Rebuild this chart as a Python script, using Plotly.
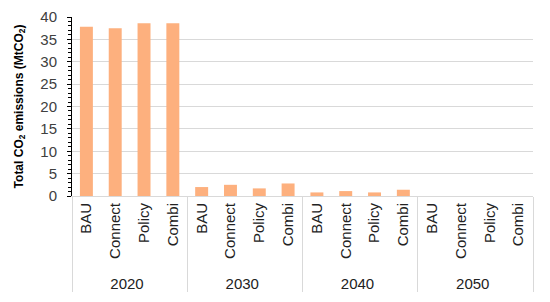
import plotly.graph_objects as go

years = ["2020"] * 4 + ["2030"] * 4 + ["2040"] * 4 + ["2050"] * 4
scenarios = ["BAU", "Connect", "Policy", "Combi"] * 4
emissions = [37.8, 37.5, 38.6, 38.6,
             2.0, 2.5, 1.7, 2.8,
             0.8, 1.1, 0.8, 1.4,
             0.0, 0.0, 0.0, 0.0]

bar_color = "#FDB07E"

fig = go.Figure(go.Bar(
    x=[years, scenarios],
    y=emissions,
    marker=dict(color=bar_color, line=dict(width=0)),
))

# page body has an 8px margin, so figure is shrunk and margins shifted by 8
fig.update_layout(
    width=542, height=294,
    paper_bgcolor="white", plot_bgcolor="white",
    margin=dict(l=64, r=17, t=9, b=106),
    bargap=0.55,
    showlegend=False,
    font=dict(family="Arial, Liberation Sans, sans-serif", color="#404040"),
)

fig.update_yaxes(
    range=[0, 40], dtick=5,
    automargin=False,
    showgrid=True, gridcolor="#D9D9D9", gridwidth=1,
    showline=True, linecolor="black", linewidth=1,
    ticks="outside", ticklen=4, tickcolor="black",
    ticklabelstandoff=7,
    minor=dict(ticks="outside", dtick=1, ticklen=3, tickcolor="black", showgrid=False),
    tickfont=dict(size=15, color="#404040"),
    title=dict(text="<b>Total CO<sub>2</sub> emissions (MtCO<sub>2</sub>)</b>",
               font=dict(size=12, color="black"), standoff=14),
    zeroline=False,
)

fig.update_xaxes(
    type="multicategory",
    automargin=False,
    showline=True, linecolor="#D9D9D9", linewidth=1,
    showdividers=True, dividercolor="#D9D9D9", dividerwidth=1,
    tickangle=-90,
    tickfont=dict(size=15, color="#222222"),
    showgrid=False,
)

fig.write_html("out.html")
